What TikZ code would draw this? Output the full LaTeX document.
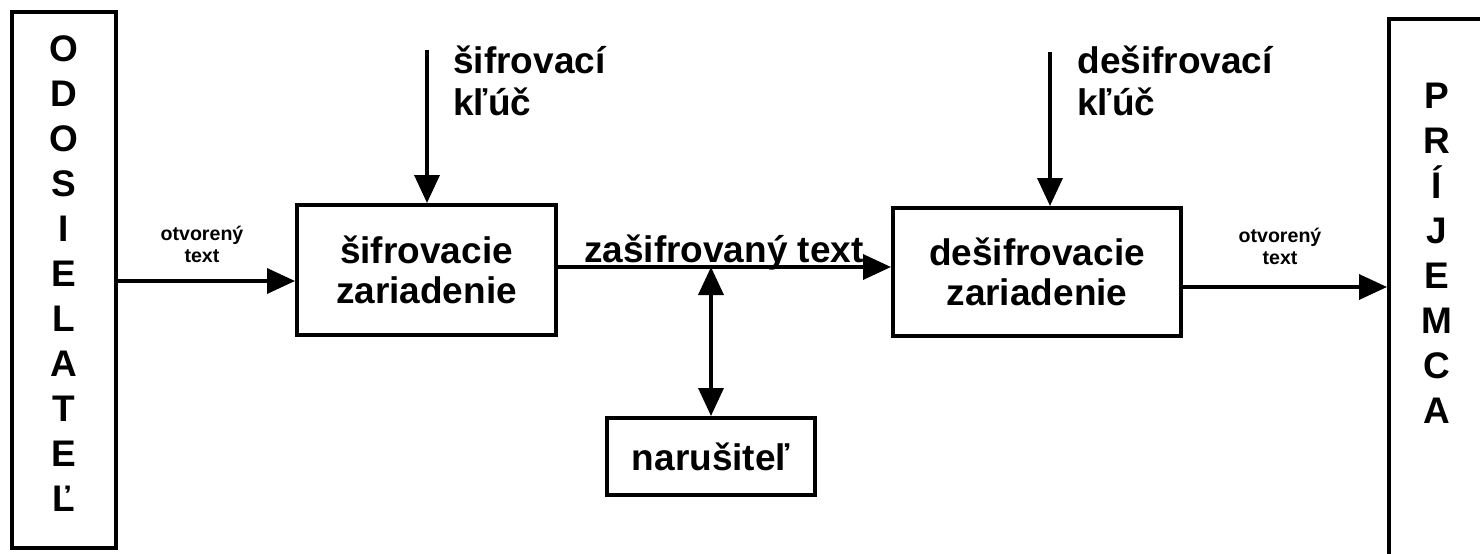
\documentclass[tikz,border=0pt]{standalone}
\usepackage{fontspec}
\setmainfont{Liberation Sans}
\usetikzlibrary{arrows.meta}

\begin{document}
\begin{tikzpicture}[x=0.5pt,y=-0.5pt,>={Triangle[length=14pt,width=12.5pt]},
    box/.style={draw,line width=2pt,inner sep=0pt},
    big/.style={font=\fontsize{18.5}{20}\selectfont\bfseries,align=center},
    letters/.style={font=\fontsize{18.5}{22.5}\selectfont\bfseries,align=center,inner sep=0pt},
    keytext/.style={font=\fontsize{18.5}{21}\selectfont\bfseries,align=left,inner sep=0pt},
    small/.style={font=\fontsize{9.8}{11}\selectfont\bfseries,align=center},
    arr/.style={->,line width=1.8pt}]
    \clip (0,0) rectangle (1480,553);
    \fill[white] (0,0) rectangle (1480,553);
    \node[box,minimum width=52pt,minimum height=268pt] (odos) at (64,280) {};
    \node[letters,anchor=north] (odostxt) at (64,35) {O\\D\\O\\S\\I\\E\\L\\A\\T\\E\\Ľ};
    \node[box,big,minimum width=129.5pt,minimum height=65pt] (sifr) at (426.5,270) {šifrovacie\\zariadenie};
    \node[box,big,minimum width=144pt,minimum height=64pt] (desif) at (1037,272) {dešifrovacie\\zariadenie};
    \node[box,big,minimum width=104pt,minimum height=38.5pt] (narus) at (711,456.5) {narušiteľ};
    \node[box,anchor=north west,minimum width=80pt,minimum height=300pt] (prij) at (1387,17) {};
    \node[letters,anchor=north] (prijtxt) at (1437,83) {P\\R\\Í\\J\\E\\M\\C\\A};
    \coordinate (inrow) at (0,281);
    \coordinate (outrow) at (0,287);
    \coordinate (tap) at (711,267);
    \coordinate (key1) at (427,50);
    \coordinate (key2) at (1050,52);
    \draw[arr] (odos.east |- inrow) -- (sifr.west |- inrow);
    \draw[arr] (key1) -- (key1 |- sifr.north);
    \draw[arr] (sifr.east |- tap) -- (desif.west |- tap);
    \draw[arr,<->] (tap) -- (narus.north);
    \draw[arr] (key2) -- (key2 |- desif.north);
    \draw[arr] (desif.east |- outrow) -- (prij.west |- outrow);
    \node[small] (otv1) at (202,244) {otvorený\\text};
    \node[small] (otv2) at (1280,246) {otvorený\\text};
    \node[keytext,anchor=north west] (key1txt) at (453,45) {šifrovací\\kľúč};
    \node[keytext,anchor=north west] (key2txt) at (1077,45) {dešifrovací\\kľúč};
    \node[big,anchor=base] (ciphtxt) at (724,262) {zašifrovaný text};
\end{tikzpicture}
\end{document}
